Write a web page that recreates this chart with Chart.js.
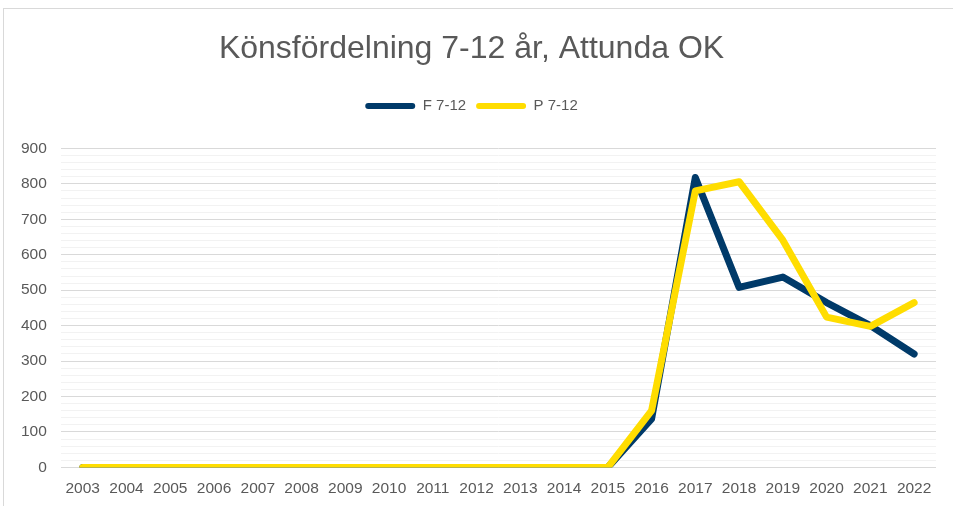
<!DOCTYPE html>
<html lang="sv">
  <head>
    <meta charset="UTF-8" />
    <title>Könsfördelning 7-12 år</title>
    <script src="https://cdn.jsdelivr.net/npm/chart.js@4.4.0/dist/chart.umd.min.js"></script>
    <style>
      body {
        margin: 0;
        background: white;
        overflow: hidden;
      }
      .chart-box {
        position: absolute;
        left: 3px;
        top: 8px;
        width: 960px;
        height: 520px;
        border: 1px solid #d9d9d9;
      }
      .chart-container {
        position: absolute;
        left: 0;
        top: 0;
        width: 950px;
        height: 493px;
      }
    </style>
  </head>
  <body>
    <div class="chart-box">
      <div class="chart-container">
        <canvas id="myChart"></canvas>
      </div>
    </div>

    <script>
      const years = ["2003", "2004", "2005", "2006", "2007", "2008", "2009", "2010", "2011", "2012",
        "2013", "2014", "2015", "2016", "2017", "2018", "2019", "2020", "2021", "2022"];
      const flickor = [0, 0, 0, 0, 0, 0, 0, 0, 0, 0, 0, 0, 0, 137, 818, 508, 537, 465, 400, 320];
      const pojkar = [0, 0, 0, 0, 0, 0, 0, 0, 0, 0, 0, 0, 0, 160, 780, 806, 641, 424, 398, 465];
      const yTicks = [0, 100, 200, 300, 400, 500, 600, 700, 800, 900];

      const textColor = "#595959";

      // extra space between legend and plot area
      const legendGap = {
        id: "legendGap",
        beforeInit(chart) {
          const fit = chart.legend.fit;
          chart.legend.fit = function () {
            fit.bind(chart.legend)();
            this.height += 25;
          };
        },
      };

      const ctx = document.getElementById("myChart").getContext("2d");
      const myChart = new Chart(ctx, {
        type: "line",
        data: {
          labels: years,
          datasets: [
            {
              label: "F 7-12",
              data: flickor,
              borderColor: "#003a69",
              backgroundColor: "#003a69",
              borderWidth: 7,
              borderCapStyle: "round",
              borderJoinStyle: "round",
              pointRadius: 0,
              tension: 0,
              order: 2,
            },
            {
              label: "P 7-12",
              data: pojkar,
              borderColor: "#ffdd00",
              backgroundColor: "#ffdd00",
              borderWidth: 7,
              borderCapStyle: "round",
              borderJoinStyle: "round",
              pointRadius: 0,
              tension: 0,
              order: 1,
            },
          ],
        },
        plugins: [legendGap],
        options: {
          responsive: true,
          maintainAspectRatio: false,
          animation: false,
          layout: {
            padding: { left: 3, right: 18, top: 9, bottom: 0 },
          },
          scales: {
            x: {
              offset: true,
              grid: { display: false },
              border: { display: false },
              ticks: {
                color: textColor,
                font: { family: "Liberation Sans", size: 15.5 },
                padding: 4,
                maxRotation: 0,
                autoSkip: false,
              },
            },
            y: {
              min: 0,
              max: 900,
              border: { display: false },
              grid: {
                drawTicks: false,
                lineWidth: 1,
                color: (c) => (yTicks.includes(c.tick.value) ? "#d9d9d9" : "#f2f2f2"),
              },
              ticks: {
                stepSize: 20,
                autoSkip: false,
                color: textColor,
                padding: 14,
                font: { family: "Liberation Sans", size: 15.5 },
                callback: (v) => (yTicks.includes(v) ? v : ""),
              },
            },
          },
          plugins: {
            title: {
              display: true,
              text: "Könsfördelning 7-12 år, Attunda OK",
              color: textColor,
              font: { family: "Liberation Sans", size: 32, weight: "normal" },
              padding: { top: 12, bottom: 20 },
            },
            legend: {
              labels: {
                color: textColor,
                font: { family: "Liberation Sans", size: 15 },
                boxWidth: 50,
                boxHeight: 6,
                padding: 10,
                generateLabels: (chart) =>
                  chart.data.datasets.map((ds, i) => ({
                    text: ds.label,
                    fillStyle: ds.borderColor,
                    strokeStyle: ds.borderColor,
                    lineWidth: 0,
                    fontColor: textColor,
                    borderRadius: 3,
                    datasetIndex: i,
                  })),
              },
            },
            tooltip: { enabled: false },
          },
        },
      });
    </script>
  </body>
</html>
